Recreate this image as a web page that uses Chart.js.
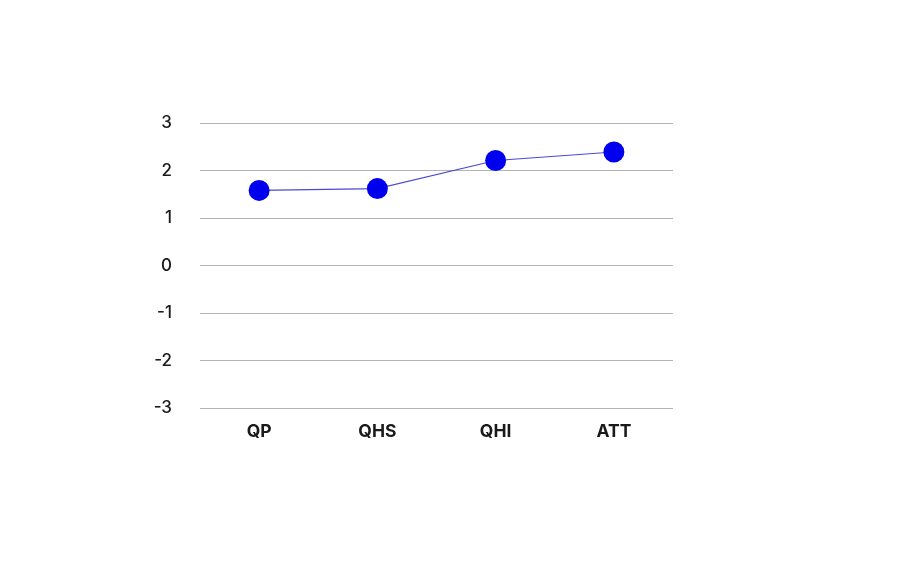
<!DOCTYPE html>
<html>
<head>
<meta charset="utf-8">
<script src="https://cdn.jsdelivr.net/npm/chart.js@4"></script>
<style>
  html, body { margin: 0; padding: 0; background: #fff; }
  #wrap { width: 900px; height: 570px; }
</style>
</head>
<body>
<div id="wrap"><canvas id="lineChart" width="900" height="570"></canvas></div>
<script>
const categories = ['QP', 'QHS', 'QHI', 'ATT'];
const scores = [1.58, 1.62, 2.21, 2.39];
const yTicks = [-3, -2, -1, 0, 1, 2, 3];

const ctx = document.getElementById('lineChart').getContext('2d');
const lineChart = new Chart(ctx, {
  type: 'line',
  data: {
    labels: categories,
    datasets: [{
      label: 'Score',
      data: scores,
      borderColor: '#4a4ad6',
      borderWidth: 1.2,
      backgroundColor: '#0000ee',
      pointBackgroundColor: '#0000ee',
      pointBorderColor: '#0000ee',
      pointRadius: 10.5,
      pointBorderWidth: 0,
      tension: 0,
      fill: false
    }]
  },
  options: {
    responsive: false,
    animation: false,
    layout: { padding: { left: 140, right: 227, top: 123, bottom: 122 } },
    plugins: {
      legend: { display: false },
      tooltip: { enabled: false }
    },
    scales: {
      x: {
        offset: true,
        grid: { display: false, drawTicks: false },
        border: { display: false },
        ticks: {
          color: '#1a1a1a',
          padding: 13,
          font: { family: 'Inter', size: 17.5, weight: 'bold' }
        },
        afterFit: (s) => { s.height = 40; }
      },
      y: {
        min: -3,
        max: 3,
        afterBuildTicks: (s) => { s.ticks = yTicks.map(v => ({ value: v })); },
        grid: { color: '#b4b4b4', lineWidth: 1, drawTicks: false },
        border: { display: false },
        ticks: {
          color: '#1a1a1a',
          padding: 28,
          font: { family: 'Inter', size: 17, weight: 500 }
        },
        afterFit: (s) => { s.width = 60; }
      }
    }
  }
});
</script>
</body>
</html>
